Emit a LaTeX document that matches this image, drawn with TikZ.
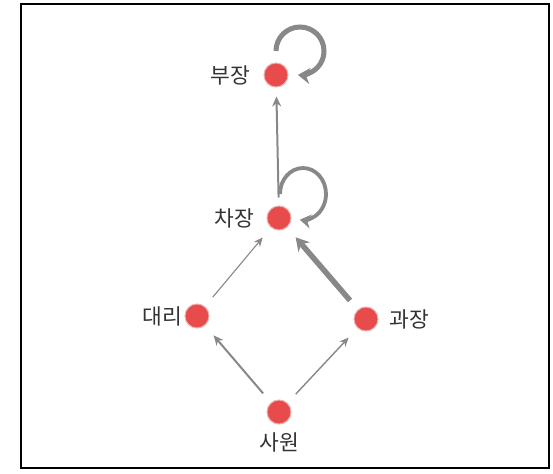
\documentclass[tikz,border=0pt]{standalone}
\usepackage{fontspec}
\newfontfamily\kr{Noto Sans CJK KR}
\usetikzlibrary{arrows.meta}
\definecolor{nodered}{HTML}{E84B4B}
\definecolor{noderim}{HTML}{F0AFAF}
\definecolor{edgegray}{HTML}{888888}
\definecolor{txt}{HTML}{333333}
\tikzset{
  person/.style={circle, fill=nodered, draw=noderim, line width=1pt, minimum size=24pt, inner sep=0pt},
  lbl/.style={font=\kr\fontsize{21.5}{22}\selectfont, text=txt, inner sep=0pt},
  rel/.style={draw=edgegray, -{Stealth[length=10pt, width=9pt]}, shorten <=12pt, shorten >=13pt},
}
\begin{document}
\begin{tikzpicture}[x=1pt, y=-1pt]
\useasboundingbox (0,0) rectangle (553,473);
\draw[line width=2.2pt, black] (21,4) rectangle (549,468);
\node[person] (bu) at (276,75) {};
\node[person] (cha) at (279,218) {};
\node[person] (dae) at (197,316) {};
\node[person] (gwa) at (366,319) {};
\node[person] (sa) at (279,412) {};
\node[lbl] (lbu) at (230,75) {부장};
\node[lbl] (lcha) at (234,218) {차장};
\node[lbl] (ldae) at (162,316) {대리};
\node[lbl] (lgwa) at (409,319) {과장};
\node[lbl] (lsa) at (279,442) {사원};
\draw[rel, line width=2pt] (sa) -- (dae);
\draw[rel, line width=1.4pt, -{Stealth[length=9pt, width=8pt]}] (sa) -- (gwa);
\draw[rel, line width=1.1pt, -{Stealth[length=9pt, width=8pt]}] (dae) -- (cha);
\draw[rel, line width=5.5pt, -{Stealth[length=13pt, width=15pt]}] (gwa) -- (cha);
\draw[rel, line width=2pt, shorten <=8pt, shorten >=9pt] (cha) -- (bu);
\draw[draw=edgegray, line width=5pt, -{Stealth[length=12pt, width=16pt]}]
  ([shift={(0,-24)}]bu.center) arc[start angle=180, end angle=455, radius=24];
\draw[draw=edgegray, line width=3.8pt, -{Stealth[length=11pt, width=14pt]}]
  ([shift={(1,-24)}]cha.center) arc[start angle=180, end angle=458, x radius=23, y radius=26];
\end{tikzpicture}
\end{document}
